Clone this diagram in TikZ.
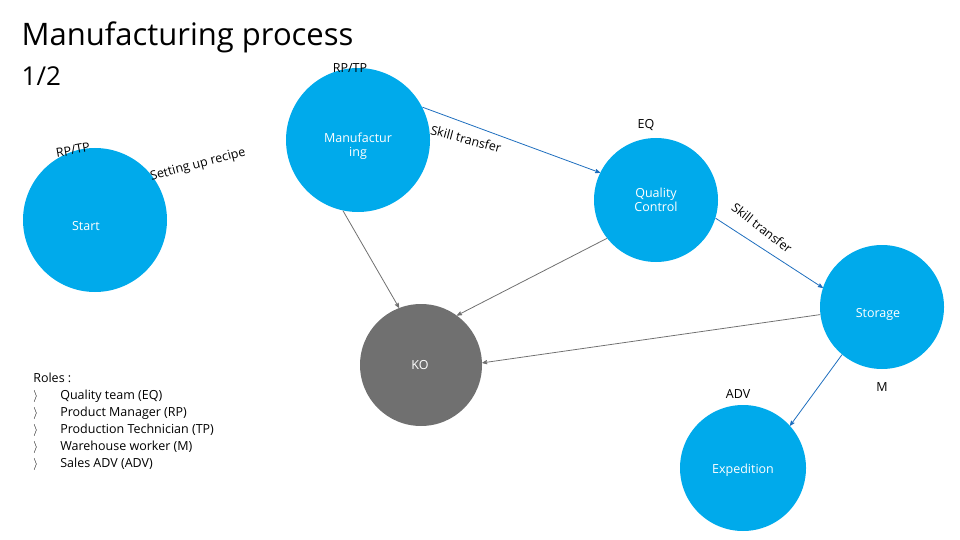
\documentclass[tikz,border=0pt]{standalone}
\usepackage{fontspec}
\setmainfont{Open Sans}
\usetikzlibrary{arrows}
\definecolor{stepblue}{RGB}{0,170,235}
\definecolor{kogray}{RGB}{112,112,112}
\definecolor{flowblue}{RGB}{30,110,190}
\begin{document}
\begin{tikzpicture}[x=1pt,y=-1pt,>=stealth',semithick]
  \tikzstyle{stage}=[circle,fill=stepblue,draw=none,text=white,align=center]
  \tikzstyle{role}=[font=\fontsize{12.5}{15}\selectfont,text=black,inner sep=1pt]
  \tikzstyle{good}=[->,draw=flowblue,thick]
  \tikzstyle{bad}=[->,draw=kogray,thick]
  \useasboundingbox (0,0) rectangle (960,540);

  \node[anchor=west,font=\fontsize{31}{34}\selectfont] (title) at (18,37) {Manufacturing process};
  \node[anchor=west,font=\fontsize{26}{30}\selectfont] (page) at (18,76) {1/2};

  \node[stage,minimum size=144pt] (Start) at (95,220) {};
  \node[role,text=white] at (86,226) {Start};
  \node[stage,minimum size=144pt] (Man) at (358,140) {};
  \node[role,text=white,align=center] at (358,146) {Manufactur\\[-1pt]ing};
  \node[stage,minimum size=124pt] (QC) at (656,200) {};
  \node[role,text=white,align=center] at (656,200) {Quality\\[-1pt]Control};
  \node[stage,minimum size=124pt] (Sto) at (882,307) {};
  \node[role,text=white] at (878,314) {Storage};
  \node[stage,minimum size=126pt] (Exp) at (743,468) {};
  \node[role,text=white] at (743,470) {Expedition};
  \node[circle,fill=kogray,minimum size=122pt] (KO) at (421,365) {};
  \node[role,text=white] at (420,365) {KO};

  \node[role] (rp1) at (350,68) {RP/TP};
  \node[role,rotate=10] (rp2) at (73,150) {RP/TP};
  \node[role] (eq) at (646,125) {EQ};
  \node[role] (adv) at (738,394) {ADV};
  \node[role] (m) at (882,387) {M};
  \node[role,rotate=15] (recipe) at (198,165) {Setting up recipe};
  \node[role,rotate=-15] (skill1) at (466,139) {Skill transfer};
  \node[role,rotate=-38] (skill2) at (762,228) {Skill transfer};

  \node[role,anchor=north west,align=left,font=\fontsize{12.5}{17}\selectfont] (roles) at (32,372)
    {Roles :\\
     \makebox[27pt][l]{$\rangle$}Quality team (EQ)\\
     \makebox[27pt][l]{$\rangle$}Product Manager (RP)\\
     \makebox[27pt][l]{$\rangle$}Production Technician (TP)\\
     \makebox[27pt][l]{$\rangle$}Warehouse worker (M)\\
     \makebox[27pt][l]{$\rangle$}Sales ADV (ADV)};

  \draw[good] (Man.27) -- (QC.154);
  \draw[good] (QC.-17) -- (Sto.162);
  \draw[good] (Sto.230) -- (Exp.42);
  \draw[bad] (Man.258) -- (KO.111);
  \draw[bad] (QC.218) -- (KO.54);
  \draw[bad] (Sto.187) -- (KO.2);
\end{tikzpicture}
\end{document}
